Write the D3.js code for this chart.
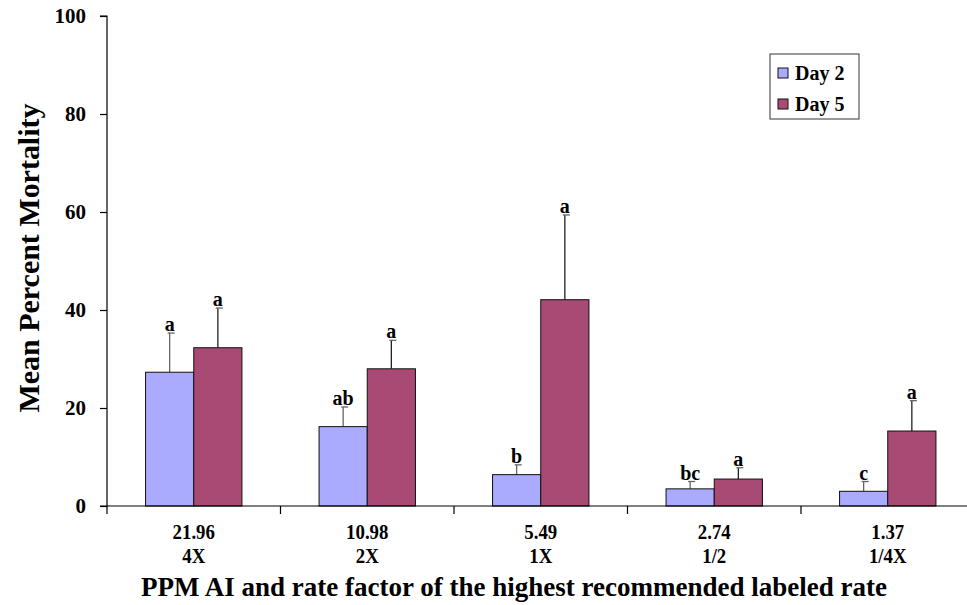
<!DOCTYPE html>
<html>
<head>
<meta charset="utf-8">
<script src="https://cdn.jsdelivr.net/npm/d3@7"></script>
<style>
  html, body { margin: 0; padding: 0; background: #fff; }
  svg { display: block; }
  text { font-family: "Liberation Serif", "Times New Roman", serif; font-weight: bold; fill: #000; }
</style>
</head>
<body>
<svg id="chart" width="967" height="605"></svg>
<script>
// Rates (PPM AI) and their rate factors
const rates = ["21.96", "10.98", "5.49", "2.74", "1.37"];
const factors = ["4X", "2X", "1X", "1/2", "1/4X"];
const seriesNames = ["Day 2", "Day 5"];

// Mean percent mortality per rate
const day2 = [27.3, 16.2, 6.4, 3.5, 3.0];
const day5 = [32.3, 28.0, 42.1, 5.5, 15.3];

// Upper error (mean + SE)
const day2Upper = [35.3, 20.2, 8.4, 5.0, 5.0];
const day5Upper = [40.4, 33.8, 59.4, 7.8, 21.5];

// Mean separation letters
const day2Letters = ["a", "ab", "b", "bc", "c"];
const day5Letters = ["a", "a", "a", "a", "a"];

const yTicks = [0, 20, 40, 60, 80, 100];
const colors = ["#AAAAFF", "#A94A74"];

const svg = d3.select("#chart");
const plotLeft = 107, plotTop = 16, plotBottom = 506;
const catW = 173.5;

const x = d3.scaleBand().domain(rates).range([plotLeft, plotLeft + catW * rates.length]).paddingInner(0).paddingOuter(0);
const inner = d3.scaleBand().domain(seriesNames).range([0, x.bandwidth()]).paddingOuter(0.8).paddingInner(0);
const y = d3.scaleLinear().domain([0, 100]).range([plotBottom, plotTop]);

const series = [
  { name: seriesNames[0], vals: day2, upper: day2Upper, letters: day2Letters, color: colors[0], err: "#666" },
  { name: seriesNames[1], vals: day5, upper: day5Upper, letters: day5Letters, color: colors[1], err: "#222" }
];

// Bars, error bars and letters
series.forEach(s => {
  const g = svg.append("g");
  rates.forEach((r, i) => {
    const bx = x(r) + inner(s.name);
    const bw = inner.bandwidth();
    const cx = bx + bw / 2;
    // error bar (upper only)
    g.append("line")
      .attr("x1", cx).attr("x2", cx)
      .attr("y1", y(s.vals[i])).attr("y2", y(s.upper[i]))
      .attr("stroke", s.err).attr("stroke-width", 1.3);
    g.append("line")
      .attr("x1", cx - 2).attr("x2", cx + 5)
      .attr("y1", y(s.upper[i])).attr("y2", y(s.upper[i]))
      .attr("stroke", "#666").attr("stroke-width", 1.3);
    g.append("rect")
      .attr("x", bx).attr("y", y(s.vals[i]))
      .attr("width", bw).attr("height", y(0) - y(s.vals[i]))
      .attr("fill", s.color).attr("stroke", "#111").attr("stroke-width", 1);
    g.append("text")
      .attr("x", cx).attr("y", y(s.upper[i]) - 2)
      .attr("text-anchor", "middle")
      .style("font-size", "20px")
      .text(s.letters[i]);
  });
});

// Y axis
const yAxis = d3.axisLeft(y).tickValues(yTicks).tickSize(7).tickPadding(14);
const ya = svg.append("g").attr("transform", `translate(${plotLeft},0)`).call(yAxis);
ya.select(".domain").attr("stroke", "#000").attr("stroke-width", 1.2).attr("d", `M-7,${plotTop}H0V${plotBottom}H-7`);
ya.selectAll(".tick line").attr("stroke", "#000").attr("stroke-width", 1.2);
ya.selectAll(".tick text")
  .style("font-family", "'Liberation Serif', serif").style("font-weight", "bold")
  .style("font-size", "21px").attr("fill", "#000");

// X axis with ticks at category boundaries
const xa = svg.append("g");
xa.append("line")
  .attr("x1", plotLeft).attr("x2", 967).attr("y1", plotBottom).attr("y2", plotBottom)
  .attr("stroke", "#000").attr("stroke-width", 1.2);
rates.forEach(r => {
  const tx = x(r);
  xa.append("line")
    .attr("x1", tx).attr("x2", tx).attr("y1", plotBottom).attr("y2", plotBottom + 8)
    .attr("stroke", "#000").attr("stroke-width", 1.2);
});

// Category labels: rate and factor
rates.forEach((r, i) => {
  const cx = x(r) + x.bandwidth() / 2;
  svg.append("text")
    .attr("x", cx).attr("y", 539)
    .attr("text-anchor", "middle")
    .style("font-size", "20px")
    .attr("transform", `translate(${cx},0) scale(0.94,1) translate(${-cx},0)`)
    .text(r);
  svg.append("text")
    .attr("x", cx).attr("y", 563)
    .attr("text-anchor", "middle")
    .style("font-size", "20px")
    .attr("transform", `translate(${cx},0) scale(0.94,1) translate(${-cx},0)`)
    .text(factors[i]);
});

// Axis titles
svg.append("text")
  .attr("x", 514).attr("y", 596)
  .attr("text-anchor", "middle")
  .style("font-size", "27px")
  .attr("textLength", 746).attr("lengthAdjust", "spacingAndGlyphs")
  .text("PPM AI and rate factor of the highest recommended labeled rate");

svg.append("text")
  .attr("transform", "translate(39,258) rotate(-90)")
  .attr("text-anchor", "middle")
  .style("font-size", "30px")
  .attr("textLength", 309).attr("lengthAdjust", "spacing")
  .text("Mean Percent Mortality");

// Legend
const lg = svg.append("g").attr("transform", "translate(770,54)");
lg.append("rect").attr("width", 89).attr("height", 65)
  .attr("fill", "#fff").attr("stroke", "#555").attr("stroke-width", 1.2);
series.forEach((s, i) => {
  const row = lg.append("g").attr("transform", `translate(8,${14 + i * 31})`);
  row.append("rect").attr("width", 10).attr("height", 10)
    .attr("fill", s.color).attr("stroke", "#111").attr("stroke-width", 1);
  row.append("text").attr("x", 17).attr("y", 12)
    .style("font-size", "20px").text(s.name);
});
</script>
</body>
</html>
